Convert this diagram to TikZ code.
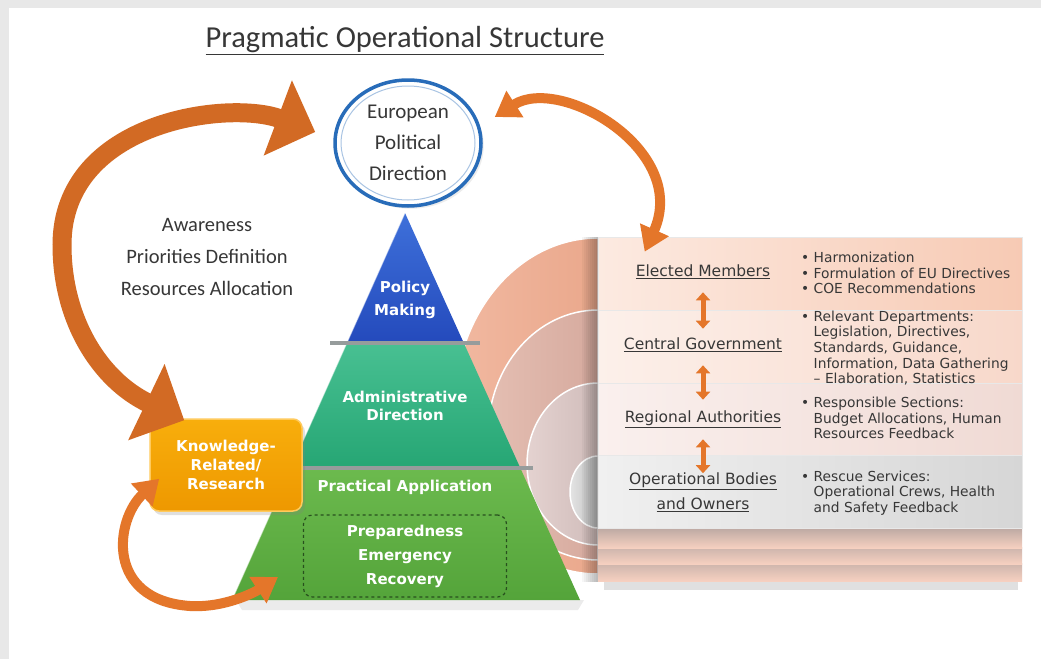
\documentclass[tikz,border=0pt]{standalone}
\usepackage{fontspec}
\setmainfont{DejaVu Sans}
\newfontfamily\calib{Carlito}
\usetikzlibrary{positioning,arrows.meta,shapes.geometric,shadows}
\definecolor{frame}{RGB}{232,232,232}
\definecolor{txtgray}{RGB}{55,55,55}
\definecolor{ringblue}{RGB}{40,108,185}
\definecolor{arrorange}{RGB}{228,118,42}
\definecolor{arrdark}{RGB}{210,106,36}
\definecolor{sepgray}{RGB}{150,156,156}
\definecolor{dkgreen}{RGB}{40,80,30}
\definecolor{bluetop}{RGB}{62,112,218}
\definecolor{bluebot}{RGB}{36,74,188}
\definecolor{tealtop}{RGB}{72,192,146}
\definecolor{tealbot}{RGB}{38,166,116}
\definecolor{grntop}{RGB}{108,186,78}
\definecolor{grnbot}{RGB}{84,164,58}
\definecolor{kntop}{RGB}{248,174,12}
\definecolor{knbot}{RGB}{238,152,0}
\definecolor{knrim}{RGB}{255,202,92}
\definecolor{disc1a}{RGB}{241,184,160}
\definecolor{disc1b}{RGB}{234,168,140}
\definecolor{disc2a}{RGB}{228,190,178}
\definecolor{disc2b}{RGB}{214,170,158}
\definecolor{disc3a}{RGB}{228,210,208}
\definecolor{disc3b}{RGB}{208,188,186}
\definecolor{disc4a}{RGB}{228,228,228}
\definecolor{disc4b}{RGB}{188,188,188}
\definecolor{r1a}{RGB}{252,234,225}
\definecolor{r1b}{RGB}{247,202,180}
\definecolor{r2a}{RGB}{252,240,234}
\definecolor{r2b}{RGB}{248,216,202}
\definecolor{r3a}{RGB}{250,240,238}
\definecolor{r3b}{RGB}{240,218,212}
\definecolor{r4a}{RGB}{240,240,240}
\definecolor{r4b}{RGB}{214,214,214}
\definecolor{stripa}{RGB}{204,180,172}
\definecolor{stripb}{RGB}{246,208,192}
\tikzset{
  tbl/.style  = {rectangle, minimum width=424pt, minimum height=73pt,
                 draw=white!82!gray, line width=.6pt, inner sep=0pt},
  rowlab/.style = {font=\fontsize{15.5}{25}\selectfont, text=txtgray, align=center},
  bul/.style  = {font=\fontsize{13.8}{15.6}\selectfont, text=txtgray,
                 align=left, anchor=west, inner sep=0pt},
  pyr/.style  = {font=\bfseries\fontsize{15}{17.5}\selectfont, text=white, align=center},
  kbox/.style = {rectangle, rounded corners=9pt, minimum width=152pt, minimum height=92pt,
                 top color=kntop, bottom color=knbot,
                 draw=knrim, line width=1.5pt, pyr,
                 font=\bfseries\fontsize{15}{19}\selectfont,
                 drop shadow={opacity=.25, shadow xshift=3pt, shadow yshift=-4pt}},
  disc/.style = {draw=white, line width=1.5pt},
  bigarr/.style = {draw=arrdark, line width=19pt,
                 {Triangle[length=42pt,width=82pt]}-{Triangle[length=40pt,width=78pt]}},
  medarr/.style = {draw=arrorange, line width=10pt,
                 {Triangle[length=24pt,width=30pt]}-{Triangle[length=24pt,width=30pt]}},
  dbl/.style  = {draw=arrorange, line width=5pt,
                 {Triangle[length=8pt,width=14pt]}-{Triangle[length=8pt,width=14pt]}},
  sep/.style  = {draw=sepgray, line width=3.5pt}
}

\begin{document}
\begin{tikzpicture}[x=1pt,y=-1pt]
  \useasboundingbox (0,0) rectangle (1041,659);
  \fill[frame] (0,0) rectangle (1041,659);
  \fill[white] (9,8) rectangle (1041,659);

  % discs behind the table
  \shade[disc, left color=disc1a, right color=disc1b]
    (598,238) arc[start angle=270, end angle=90, x radius=143, y radius=168] -- cycle;
  \shade[disc, left color=disc2a, right color=disc2b]
    (598,310) arc[start angle=270, end angle=90, x radius=110, y radius=125] -- cycle;
  \shade[disc, left color=disc3a, right color=disc3b]
    (598,383) arc[start angle=270, end angle=90, x radius=71, y radius=81] -- cycle;
  \shade[disc, left color=disc4a, right color=disc4b]
    (598,456) arc[start angle=270, end angle=90, x radius=28, y radius=36] -- cycle;
  \foreach \i in {1,...,8}
    \fill[black,opacity=.035] (598-2*\i,237) rectangle (598,582);

  % table
  \fill[black,opacity=.12] (604,578) rectangle (1018,590);
  \shade[top color=stripa, bottom color=stripb] (598,563) rectangle (1022,581);
  \shade[top color=stripa, bottom color=stripb] (598,547) rectangle (1022,564);
  \shade[top color=stripa!80!gray, bottom color=stripb] (598,528) rectangle (1022,548);
  \node[tbl, left color=r1a, right color=r1b] (row1) at (810,273.5) {};
  \node[tbl, left color=r2a, right color=r2b] (row2) at (810,346.5) {};
  \node[tbl, left color=r3a, right color=r3b] (row3) at (810,419.5) {};
  \node[tbl, left color=r4a, right color=r4b] (row4) at (810,492) {};

  \node[rowlab] (lab1) at (703,272) {\underline{Elected Members}};
  \node[rowlab] (lab2) at (703,345) {\underline{Central Government}};
  \node[rowlab] (lab3) at (703,419) {\underline{Regional Authorities}};
  \node[rowlab] (lab4) at (703,492) {\underline{Operational Bodies}\\\underline{and Owners}};
  \draw[dbl] ([yshift=18pt]row1.south -| lab1) -- ([yshift=-19pt]row2.north -| lab1);
  \draw[dbl] ([yshift=18pt]row2.south -| lab2) -- ([yshift=-17pt]row3.north -| lab2);
  \draw[dbl] ([yshift=17pt]row3.south -| lab3) -- ([yshift=-18pt]row4.north -| lab3);

  \node[bul] (txt1) at (801,273) {• Harmonization\\• Formulation of EU Directives\\• COE Recommendations};
  \node[bul] (txt2) at (801,348) {• Relevant Departments:\\\hphantom{• }Legislation, Directives,\\\hphantom{• }Standards, Guidance,\\\hphantom{• }Information, Data Gathering\\\hphantom{• }– Elaboration, Statistics};
  \node[bul] (txt3) at (801,418) {• Responsible Sections:\\\hphantom{• }Budget Allocations, Human\\\hphantom{• }Resources Feedback};
  \node[bul] (txt4) at (801,493) {• Rescue Services:\\\hphantom{• }Operational Crews, Health\\\hphantom{• }and Safety Feedback};

  % pyramid
  \coordinate (apex) at (405,213);
  \coordinate (bl) at (232,600);
  \coordinate (br) at (580,600);
  \fill[black,opacity=.08] (236,600) -- (584,600) -- (578,610) -- (242,610) -- cycle;
  \begin{scope}
    \clip (apex) -- (bl) -- (br) -- cycle;
    \shade[top color=bluetop, bottom color=bluebot] (220,213) rectangle (600,343);
    \shade[top color=tealtop, bottom color=tealbot] (220,343) rectangle (600,468);
    \shade[top color=grntop, bottom color=grnbot] (220,468) rectangle (600,600);
  \end{scope}
  \draw[white,opacity=.5,line width=1pt] (apex) -- (bl);
  \draw[sep] (330,343) -- (480,343);
  \draw[sep] (300,468) -- (533,468);
  \node[pyr, font=\bfseries\fontsize{15}{23}\selectfont] (pol) at (405,300) {Policy\\Making};
  \node[pyr] (adm) at (405,406) {Administrative\\Direction};
  \node[pyr] (prac) at (405,487) {Practical Application};
  \node[pyr, draw=dkgreen, dashed, line width=1.2pt, rounded corners=9pt,
        minimum width=203pt, minimum height=82pt,
        font=\bfseries\fontsize{15}{24}\selectfont] (prep) at (405,556) {Preparedness\\Emergency\\Recovery};

  % top part
  \node[font=\calib\fontsize{30.5}{33}\selectfont, text=txtgray] (ttl) at (405,41) {\underline{Pragmatic Operational Structure}};
  \node[ellipse, draw=ringblue, line width=3.5pt, fill=white, minimum width=146pt, minimum height=126pt,
        inner sep=0pt, align=center, text=txtgray, font=\calib\fontsize{21}{31}\selectfont,
        drop shadow={opacity=.15}] (epd) at (408,143) {European\\Political\\Direction};
  \draw[ringblue!40!white, line width=1pt] (epd.center) ellipse[x radius=67, y radius=57];
  \node[font=\calib\fontsize{20.5}{32}\selectfont, align=center, text=txtgray] (aw) at (207,257)
    {Awareness\\Priorities Definition\\Resources Allocation};

  \node[kbox] (know) at (226,465) {Knowledge-\\Related/\\Research};

  \draw[bigarr] ([shift={(35,2)}]know.north west) .. controls (100,380) and (62,320) .. (62,245)
    .. controls (62,120) and (230,100) .. ([shift={(-18,-11)}]epd.west);
  \draw[medarr] ([shift={(12,-26)}]epd.east) .. controls (560,75) and (690,150) .. ([shift={(47,15)}]row1.north west);
  \draw[medarr] ([shift={(10,-33)}]know.south west) .. controls (115,520) and (105,600) .. (190,606)
    .. controls (225,608) and (255,592) .. ([shift={(46,-23)}]bl);
\end{tikzpicture}
\end{document}
